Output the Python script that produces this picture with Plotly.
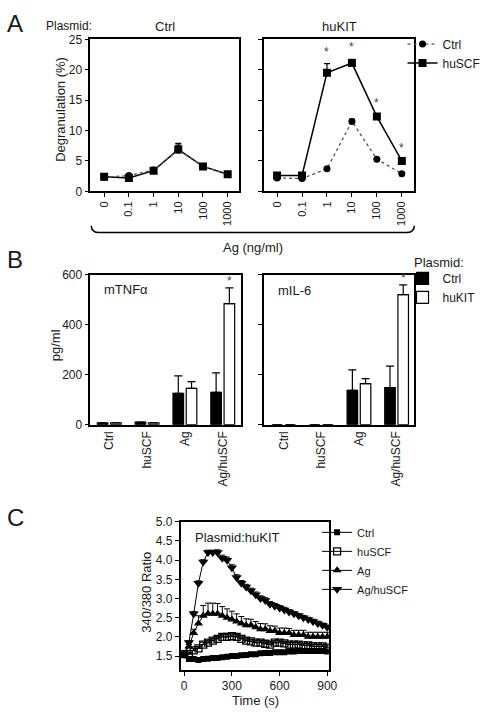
import plotly.graph_objects as go

W, H = 493, 720
def fx(p): return p / W
def fy(p): return 1 - p / H

FONT = "Arial, 'Liberation Sans', Helvetica, sans-serif"
TXT = "#1a1a1a"

# ---------------- Panel A data ----------------
ag_doses = ["0", "0.1", "1", "10", "100", "1000"]
a_ctrlpl_ctrl = [2.3, 2.6, 3.5, 6.8, 4.1, 2.8]
a_ctrlpl_ctrl_err = [0.2, 0.3, 0.3, 0.8, 0.2, 0.1]
a_ctrlpl_huscf = [2.4, 2.2, 3.4, 6.9, 4.1, 2.8]
a_ctrlpl_huscf_err = [0.2, 0.3, 0.3, 1.0, 0.2, 0.1]
a_kitpl_ctrl = [2.2, 2.1, 3.7, 11.5, 5.3, 2.9]
a_kitpl_ctrl_err = [0.1, 0.1, 0.2, 0.4, 0.2, 0.1]
a_kitpl_huscf = [2.6, 2.6, 19.5, 21.1, 12.3, 5.0]
a_kitpl_huscf_err = [0.2, 0.2, 1.5, 0.6, 0.3, 0.2]
a_star_doses = ["1", "10", "100", "1000"]

# ---------------- Panel B data ----------------
b_treat = ["Ctrl", "huSCF", "Ag", "Ag/huSCF"]
tnf_ctrl = [7, 10, 125, 129]
tnf_ctrl_err = [0, 0, 70, 78]
tnf_kit = [7, 7, 145, 484]
tnf_kit_err = [0, 0, 27, 63]
il6_ctrl = [0, 0, 137, 148]
il6_ctrl_err = [0, 0, 82, 86]
il6_kit = [0, 0, 164, 520]
il6_kit_err = [0, 0, 20, 39]

# ---------------- Panel C data ----------------
time_s = [0, 30, 60, 90, 120, 150, 180, 210, 240, 270, 300, 330, 360, 390, 420,
          450, 480, 510, 540, 570, 600, 630, 660, 690, 720, 750, 780, 810, 840, 870, 900]
c_ctrl = [1.55, 1.42, 1.42, 1.40, 1.42, 1.43, 1.45, 1.45, 1.47, 1.48, 1.50, 1.50, 1.52, 1.53, 1.55,
          1.55, 1.57, 1.58, 1.58, 1.60, 1.60, 1.60, 1.62, 1.62, 1.63, 1.63, 1.63, 1.63, 1.63, 1.63, 1.62]
c_ctrl_err = [0.02] * 31
c_huscf = [1.55, 1.55, 1.65, 1.70, 1.80, 1.85, 1.90, 1.95, 2.00, 2.00, 2.02, 2.00, 1.95, 1.90, 1.88,
           1.85, 1.85, 1.82, 1.80, 1.85, 1.85, 1.83, 1.80, 1.80, 1.80, 1.78, 1.78, 1.75, 1.75, 1.75, 1.72]
c_huscf_err = [0.03, 0.04, 0.05, 0.05, 0.06, 0.06, 0.06, 0.06, 0.06, 0.06, 0.06, 0.06, 0.05, 0.05, 0.05,
               0.05, 0.05, 0.05, 0.05, 0.05, 0.05, 0.05, 0.05, 0.05, 0.05, 0.05, 0.05, 0.05, 0.05, 0.05, 0.05]
c_ag = [1.55, 1.75, 2.10, 2.35, 2.55, 2.60, 2.60, 2.60, 2.55, 2.50, 2.45, 2.40, 2.35, 2.30, 2.30,
        2.25, 2.20, 2.20, 2.15, 2.15, 2.10, 2.10, 2.10, 2.05, 2.05, 2.05, 2.00, 2.00, 2.00, 2.00, 2.00]
c_ag_err = [0.03, 0.05, 0.10, 0.20, 0.27, 0.28, 0.28, 0.27, 0.24, 0.23, 0.22, 0.20, 0.18, 0.17, 0.16,
            0.15, 0.15, 0.14, 0.14, 0.13, 0.13, 0.13, 0.12, 0.12, 0.12, 0.12, 0.12, 0.12, 0.12, 0.12, 0.12]
c_aghuscf = [1.55, 1.85, 2.60, 3.40, 3.95, 4.20, 4.20, 4.20, 4.05, 4.00, 3.80, 3.55, 3.40, 3.30, 3.20,
             3.10, 3.00, 2.95, 2.85, 2.80, 2.75, 2.70, 2.65, 2.60, 2.55, 2.50, 2.45, 2.40, 2.35, 2.30, 2.25]
c_aghuscf_err = [0.03, 0.05, 0.06, 0.06, 0.06, 0.06, 0.06, 0.07, 0.08, 0.08, 0.08, 0.07, 0.07, 0.07, 0.07,
                 0.07, 0.07, 0.07, 0.07, 0.07, 0.07, 0.07, 0.06, 0.06, 0.06, 0.06, 0.06, 0.06, 0.06, 0.06, 0.06]

fig = go.Figure()

def up_err(arr, width=3, thick=1.2):
    return dict(type="data", array=arr, arrayminus=[0] * len(arr), symmetric=False,
                color="black", thickness=thick, width=width)

# ---- Panel A traces ----
for xa, ya, scf, scf_e, ctl, ctl_e, show in [
    ("x", "y", a_ctrlpl_huscf, a_ctrlpl_huscf_err, a_ctrlpl_ctrl, a_ctrlpl_ctrl_err, False),
    ("x2", "y2", a_kitpl_huscf, a_kitpl_huscf_err, a_kitpl_ctrl, a_kitpl_ctrl_err, True),
]:
    fig.add_trace(go.Scatter(
        x=ag_doses, y=scf, mode="lines+markers", name="huSCF",
        line=dict(color="black", width=1.5),
        marker=dict(symbol="square", size=8, color="black"),
        error_y=up_err(scf_e), xaxis=xa, yaxis=ya,
        showlegend=show, legend="legend", legendrank=2))
    fig.add_trace(go.Scatter(
        x=ag_doses, y=ctl, mode="lines+markers", name="Ctrl",
        line=dict(color="#555555", width=1.3, dash="dot"),
        marker=dict(symbol="circle", size=7, color="black"),
        error_y=up_err(ctl_e), xaxis=xa, yaxis=ya,
        showlegend=show, legend="legend", legendrank=1))

# stars panel A (right) - category index positions
for d in a_star_doses:
    i = ag_doses.index(d)
    top = max(a_kitpl_huscf[i] + a_kitpl_huscf_err[i], a_kitpl_ctrl[i] + a_kitpl_ctrl_err[i])
    fig.add_annotation(x=i, y=top, xref="x2", yref="y2", text="*", showarrow=False,
                       yanchor="bottom", yshift=3, font=dict(size=12, color="#444"))

# ---- Panel B traces ----
for xa, ya, c, ce, k, ke, show in [
    ("x3", "y3", tnf_ctrl, tnf_ctrl_err, tnf_kit, tnf_kit_err, True),
    ("x4", "y4", il6_ctrl, il6_ctrl_err, il6_kit, il6_kit_err, False),
]:
    fig.add_trace(go.Bar(
        x=b_treat, y=c, name="Ctrl", marker=dict(color="black", line=dict(color="black", width=1.2)),
        error_y=up_err(ce, width=4), xaxis=xa, yaxis=ya, showlegend=show, legend="legend2",
        offsetgroup="ctrl"))
    fig.add_trace(go.Bar(
        x=b_treat, y=k, name="huKIT", marker=dict(color="white", line=dict(color="black", width=1.2)),
        error_y=up_err(ke, width=4), xaxis=xa, yaxis=ya, showlegend=show, legend="legend2",
        offsetgroup="kit"))

fig.add_annotation(x=3, y=tnf_kit[3] + tnf_kit_err[3], xref="x3", yref="y3", text="*",
                   showarrow=False, yanchor="bottom", xshift=7, yshift=-2, font=dict(size=12, color="#444"))
fig.add_annotation(x=3, y=il6_kit[3] + il6_kit_err[3], xref="x4", yref="y4", text="*",
                   showarrow=False, yanchor="bottom", xshift=7, yshift=-2, font=dict(size=12, color="#444"))

# ---- Panel C traces ----
c_series = [
    ("Ctrl", c_ctrl, c_ctrl_err, dict(symbol="square", size=6, color="black")),
    ("huSCF", c_huscf, c_huscf_err, dict(symbol="square-open", size=7, color="black", line=dict(width=1.3))),
    ("Ag", c_ag, c_ag_err, dict(symbol="triangle-up", size=8, color="black")),
    ("Ag/huSCF", c_aghuscf, c_aghuscf_err, dict(symbol="triangle-down", size=9, color="black")),
]
for name, yv, ye, mk in c_series:
    fig.add_trace(go.Scatter(
        x=time_s, y=yv, mode="lines+markers", name=name,
        line=dict(color="black", width=1), marker=mk,
        error_y=up_err(ye, width=3, thick=1), xaxis="x5", yaxis="y5",
        legend="legend3"))

axis_common = dict(showline=True, linecolor="black", linewidth=1.5, mirror=True,
                   ticks="outside", ticklen=4, tickwidth=1, tickcolor="black",
                   showgrid=False, zeroline=False,
                   tickfont=dict(family=FONT, size=12, color=TXT))

fig.update_layout(
    width=W, height=H, margin=dict(l=0, r=0, t=0, b=0),
    paper_bgcolor="white", plot_bgcolor="white",
    font=dict(family=FONT, size=12, color=TXT),
    barmode="group", bargap=0.3, bargroupgap=0.2,
    xaxis=dict(axis_common, domain=[fx(92), fx(243)], anchor="y", type="category",
               range=[-0.56, 5.44], tickangle=-90, tickfont=dict(size=11)),
    yaxis=dict(axis_common, domain=[fy(188), fy(33)], anchor="x", range=[0, 25], dtick=5),
    xaxis2=dict(axis_common, domain=[fx(269), fx(422)], anchor="y2", type="category",
                range=[-0.52, 5.5], tickangle=-90, tickfont=dict(size=11)),
    yaxis2=dict(axis_common, domain=[fy(188), fy(33)], anchor="x2", range=[0, 25], dtick=5,
                showticklabels=False),
    xaxis3=dict(axis_common, domain=[fx(92), fx(245)], anchor="y3", type="category",
                range=[-0.5, 3.47], tickangle=-90, ticks=""),
    yaxis3=dict(axis_common, domain=[fy(426), fy(273)], anchor="x3", range=[0, 600], dtick=200),
    xaxis4=dict(axis_common, domain=[fx(269), fx(422)], anchor="y4", type="category",
                range=[-0.52, 3.47], tickangle=-90, ticks=""),
    yaxis4=dict(axis_common, domain=[fy(426), fy(273)], anchor="x4", range=[0, 600], dtick=200,
                showticklabels=False),
    xaxis5=dict(axis_common, domain=[fx(184), fx(335)], anchor="y5", range=[-22, 910],
                tickvals=[0, 300, 600, 900]),
    yaxis5=dict(axis_common, domain=[fy(676), fy(525)], anchor="x5", range=[1.14, 5.0],
                dtick=0.5, tickformat=".1f"),
    legend=dict(x=fx(410), y=fy(23), xanchor="left", yanchor="top", bgcolor="rgba(0,0,0,0)",
                font=dict(size=12, color=TXT), tracegroupgap=0, itemwidth=30),
    legend2=dict(x=fx(410), y=fy(262), xanchor="left", yanchor="top", bgcolor="rgba(0,0,0,0)",
                 font=dict(size=12, color=TXT), tracegroupgap=0, itemwidth=30),
    legend3=dict(x=fx(323), y=fy(521), xanchor="left", yanchor="top", bgcolor="rgba(0,0,0,0)",
                 font=dict(size=11, color=TXT), tracegroupgap=0, itemwidth=30),
)

def ann(text, x, y, size=12, xanchor="center", angle=0):
    fig.add_annotation(text=text, x=fx(x), y=fy(y), xref="paper", yref="paper",
                       showarrow=False, xanchor=xanchor, yanchor="middle", textangle=angle,
                       font=dict(family=FONT, size=size, color=TXT))

ann("A", 15, 17, size=24)
ann("B", 15, 257, size=24)
ann("C", 16, 521, size=24)
ann("Plasmid:", 70, 19, size=12)
ann("Ctrl", 168, 20, size=13)
ann("huKIT", 346, 20, size=13)
ann("Degranulation (%)", 62, 104, size=13, angle=-90)
ann("Ag (ng/ml)", 258, 245, size=13)
ann("mTNFα", 104, 288, size=13, xanchor="left")
ann("mIL-6", 281, 289, size=13, xanchor="left")
ann("pg/ml", 56, 345, size=13, angle=-90)
ann("Plasmid:", 420, 261, size=13, xanchor="left")
ann("Plasmid:huKIT", 197, 541, size=13, xanchor="left")
ann("340/380 Ratio", 149, 597, size=13, angle=-90)
ann("Time (s)", 260, 707, size=13)

# brace under panel A
path = (f"M {fx(93)},{fy(223)} Q {fx(93)},{fy(230)} {fx(101)},{fy(230)} "
        f"L {fx(414)},{fy(230)} Q {fx(422)},{fy(230)} {fx(422)},{fy(223)}")
fig.add_shape(type="path", path=path, xref="paper", yref="paper",
              line=dict(color="black", width=1.5))

fig.write_html("out.html", config={"displayModeBar": False},
               post_script="document.body.style.margin='0px';")
